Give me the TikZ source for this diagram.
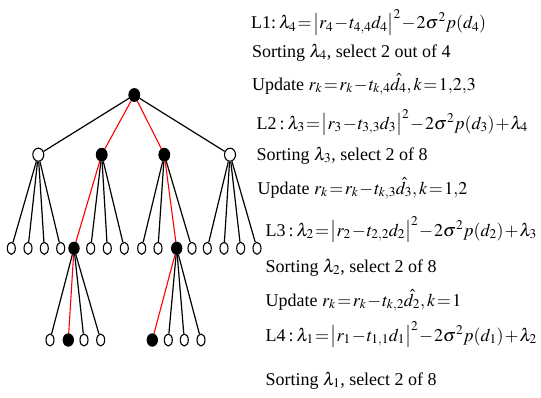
\documentclass[tikz,border=0pt]{standalone}
\usepackage{amsmath}
\usepackage{mathptmx}
\usepackage[no-math]{fontspec}
\setmainfont{Liberation Serif}
\usepackage{tikz}
\usetikzlibrary{shapes.geometric,backgrounds}

\newcommand{\tightmath}{\medmuskip=1mu\thickmuskip=1.5mu}

\begin{document}
\begin{tikzpicture}[
  x=1pt,y=-1pt,
  font=\fontsize{18}{22}\selectfont\tightmath,
  line cap=round,line join=round,
  open/.style={ellipse,draw=black,fill=white,line width=1.1pt,
    minimum width=8pt,minimum height=12pt,inner sep=0pt},
  shut/.style={ellipse,draw=black,fill=black,line width=0.8pt,
    minimum width=10.5pt,minimum height=12.5pt,inner sep=0pt},
  upper/.style={minimum width=11pt,minimum height=13pt},
  branch/.style={draw=black,line width=1.2pt},
  chosen/.style={draw=red,line width=1.1pt},
  eqn/.style={anchor=base west,inner sep=0pt}
]
\useasboundingbox (0,0) rectangle (541,397);

% search tree
\node[shut,upper] (root) at (134.3,95) {};
\foreach \i/\x/\s in {1/38.3/open,2/101.7/shut,3/164.3/shut,4/230/open}{
  \node[\s,upper] (a\i) at (\x,154.7) {};
}
\foreach \i/\x/\s in {1/11.3/open,2/28/open,3/44.3/open,4/60.7/open,
    5/74/shut,6/90.7/open,7/107.3/open,8/124.3/open,
    9/141.7/open,10/158/open,11/176.7/shut,12/192/open,
    13/207.3/open,14/224/open,15/240.7/open,16/257/open}{
  \node[\s] (b\i) at (\x,248.3) {};
}
\foreach \i/\x/\s in {1/50/open,2/68.3/shut,3/84/open,4/100.7/open,
    5/152.3/shut,6/168.3/open,7/184.3/open,8/201/open}{
  \node[\s] (c\i) at (\x,340) {};
}

% edges behind the nodes
\begin{scope}[on background layer]
\draw[branch] (root) -- (a1);
\draw[branch] (root) -- (a4);
\draw[chosen] (root) -- (a2);
\draw[chosen] (root) -- (a3);
\foreach \p/\c in {1/1,1/2,1/3,1/4,2/6,2/7,2/8,3/9,3/10,3/12,
    4/13,4/14,4/15,4/16}{
  \draw[branch] (a\p) -- (b\c);
}
\draw[chosen] (a2) -- (b5);
\draw[chosen] (a3) -- (b11);
\foreach \c in {1,3,4}{\draw[branch] (b5) -- (c\c);}
\draw[chosen] (b5) -- (c2);
\foreach \c in {6,7,8}{\draw[branch] (b11) -- (c\c);}
\draw[chosen] (b11) -- (c5);
\end{scope}

% level formulas
\node[eqn] (l1) at (251,28.5)
  {L1:\,$\lambda_4=\bigl|r_4-t_{4,4}d_4\bigr|^2-2\sigma^2p(d_4)$};
\node[eqn] (s4) at (252,57) {Sorting $\lambda_4$, select 2 out of 4};
\node[eqn] (u4) at (252,90) {Update $r_k=r_k-t_{k,4}\hat{d}_4, k=1{,}2{,}3$};
\node[eqn] (l2) at (256.5,129)
  {L2\,:\,$\lambda_3=\bigl|r_3-t_{3,3}d_3\bigr|^2-2\sigma^2p(d_3)+\lambda_4$};
\node[eqn] (s3) at (256.5,160) {Sorting $\lambda_3$, select 2 of 8};
\node[eqn] (u3) at (257.5,194) {Update $r_k=r_k-t_{k,3}\hat{d}_3, k=1{,}2$};
\node[eqn] (l3) at (265.5,236)
  {L3\,:\,$\lambda_2=\bigl|r_2-t_{2,2}d_2\bigr|^2-2\sigma^2p(d_2)+\lambda_3$};
\node[eqn] (s2) at (265.5,272) {Sorting $\lambda_2$, select 2 of 8};
\node[eqn] (u2) at (265.5,306) {Update $r_k=r_k-t_{k,2}\hat{d}_2, k=1$};
\node[eqn] (l4) at (265.5,341)
  {L4\,:\,$\lambda_1=\bigl|r_1-t_{1,1}d_1\bigr|^2-2\sigma^2p(d_1)+\lambda_2$};
\node[eqn] (s1) at (265.5,385) {Sorting $\lambda_1$, select 2 of 8};
\end{tikzpicture}
\end{document}
